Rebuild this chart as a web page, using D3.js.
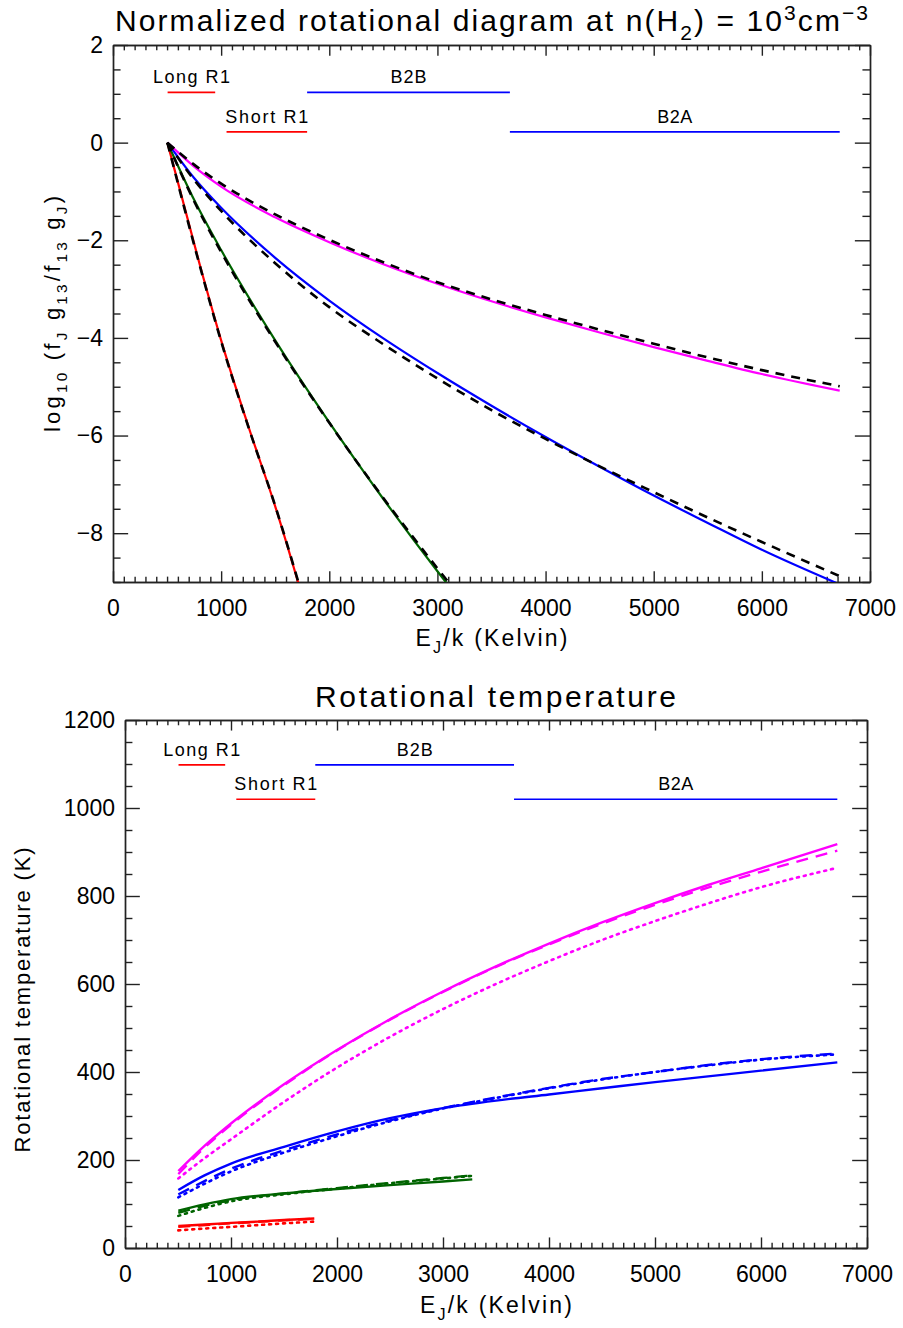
<!DOCTYPE html>
<html><head><meta charset="utf-8">
<script src="https://cdn.jsdelivr.net/npm/d3@7"></script>
<style>
body{margin:0;background:#fff}
svg{display:block}
text{font-family:"Liberation Sans",Arial,sans-serif;fill:#000}
</style>
</head><body>
<svg id="c" width="903" height="1328"></svg>
<script>
// ---------------- DATA ----------------
const xTicks = [0, 1000, 2000, 3000, 4000, 5000, 6000, 7000];
const topYTicks = [2, 0, -2, -4, -6, -8];
const botYTicks = [0, 200, 400, 600, 800, 1000, 1200];

// band annotations
const bandNames = ["Long R1", "Short R1", "B2B", "B2A"];
const bandStart = [505, 1050, 1795, 3670];
const bandEnd = [945, 1795, 3670, 6720];
const bandLevelTop = [1.03, 0.22, 1.03, 0.22];      // log10 units
const bandLevelBot = [1098, 1020, 1098, 1020];      // K

// energies E_J/k (K)
const redE = [503, 800, 1000, 1250, 1500, 1786];
const greenE = [503, 750, 1000, 1500, 2000, 2500, 3000, 3276];
const longE = [503, 750, 1000, 1500, 2000, 2500, 3000, 3500, 4000, 4500, 5000, 5500, 6000, 6720];

// top panel: log10 normalized populations (model) and fits (black dashed)
const redLog = [0, -2.48, -4.05, -5.80, -7.45, -9.57];
const redFit = [0, -2.50, -4.07, -5.81, -7.44, -9.55];
const greenLog = [0, -1.17, -2.20, -4.05, -5.73, -7.30, -8.78, -9.56];
const greenFit = [0, -1.20, -2.24, -4.08, -5.74, -7.28, -8.72, -9.48];
const blueLog = [0, -0.725, -1.335, -2.36, -3.235, -4.01, -4.72, -5.39, -6.03, -6.64, -7.23, -7.79, -8.34, -9.05];
const blueFit = [0, -0.76, -1.40, -2.47, -3.37, -4.13, -4.83, -5.48, -6.07, -6.63, -7.16, -7.68, -8.18, -8.88];
const magLog = [0, -0.49, -0.90, -1.53, -2.04, -2.49, -2.89, -3.25, -3.58, -3.89, -4.19, -4.47, -4.74, -5.08];
const magFit = [0, -0.45, -0.84, -1.47, -1.99, -2.45, -2.86, -3.21, -3.53, -3.83, -4.12, -4.40, -4.66, -4.99];

// bottom panel: rotational temperatures (K)
const redTsolid = [50, 54, 57, 60, 63.5, 67];
const redTdash = [48, 53, 56, 59.5, 63, 66.5];
const redTdot = [40, 45, 48, 52, 56, 60];
const greenTsolid = [85, 99, 111, 124, 134, 143, 151, 156];
const greenTdash = [80, 96, 109, 124, 136, 148, 159, 165];
const greenTdot = [73, 91, 106, 122, 135, 147, 158, 164];
const blueTsolid = [132, 165, 192, 230, 265, 295, 318, 335, 349, 363, 377, 390, 403, 422];
const blueTdash = [122, 152, 180, 222, 258, 290, 318, 342, 364, 384, 400, 416, 429, 442];
const blueTdot = [115, 146, 174, 217, 254, 288, 317, 341, 363, 383, 400, 415, 428, 440];
const magTsolid = [175, 232, 283, 372, 450, 520, 583, 640, 692, 740, 784, 825, 863, 918];
const magTdash = [168, 228, 280, 370, 449, 519, 582, 639, 690, 737, 780, 819, 855, 903];
const magTdot = [158, 204, 247, 332, 410, 480, 543, 600, 652, 700, 743, 783, 820, 864];

// ---------------- STYLE ----------------
const C = {red: "#ff0000", green: "#006400", blue: "#0000ff", mag: "#ff00ff"};
const bandColor = [C.red, C.red, C.blue, C.blue];
const bandTextLen = [77, 83, 36, 35];
const FONT = '"Liberation Sans", Arial, sans-serif';

const svg = d3.select("#c");

const xTop = d3.scaleLinear().domain([0, 7000]).range([113, 870]);
const yTop = d3.scaleLinear().domain([-9, 2]).range([582, 45]);
const xBot = d3.scaleLinear().domain([0, 7000]).range([125, 867]);
const yBot = d3.scaleLinear().domain([0, 1200]).range([1248, 720]);

function fmtY(d) { return d < 0 ? "\u2212" + Math.abs(d) : String(d); }

function frame(x, y, yTicks, xMinor, yMinor) {
  const [x0, x1] = x.range(), [y0, y1] = y.range();
  const xl = 0.02 * (y0 - y1), yl = 0.02 * (x1 - x0);
  const g = svg.append("g");
  const [dx0, dx1] = x.domain(), [dy0, dy1] = y.domain();
  const xm = d3.range(dx0, dx1 + 1e-6, xMinor).filter(v => !xTicks.includes(v));
  const ym = d3.range(dy0, dy1 + 1e-6, yMinor).filter(v => !yTicks.includes(v));
  function style(a) {
    a.attr("font-size", 23).attr("font-family", FONT);
    a.selectAll("path,line").attr("stroke", "#222").attr("stroke-width", 1.4);
    a.selectAll("text").attr("fill", "#000");
  }
  g.append("g").attr("transform", `translate(0,${y0})`)
    .call(d3.axisBottom(x).tickValues(xTicks).tickSize(-xl).tickSizeOuter(0).tickPadding(18).tickFormat(d3.format("d"))).call(style);
  g.append("g").attr("transform", `translate(0,${y0})`)
    .call(d3.axisBottom(x).tickValues(xm).tickSize(-xl / 2).tickSizeOuter(0).tickFormat("")).call(style);
  g.append("g").attr("transform", `translate(0,${y1})`)
    .call(d3.axisTop(x).tickValues(xTicks).tickSize(-xl).tickSizeOuter(0).tickFormat("")).call(style);
  g.append("g").attr("transform", `translate(0,${y1})`)
    .call(d3.axisTop(x).tickValues(xm).tickSize(-xl / 2).tickSizeOuter(0).tickFormat("")).call(style);
  g.append("g").attr("transform", `translate(${x0},0)`)
    .call(d3.axisLeft(y).tickValues(yTicks).tickSize(-yl).tickSizeOuter(0).tickPadding(10).tickFormat(fmtY)).call(style);
  g.append("g").attr("transform", `translate(${x0},0)`)
    .call(d3.axisLeft(y).tickValues(ym).tickSize(-yl / 2).tickSizeOuter(0).tickFormat("")).call(style);
  g.append("g").attr("transform", `translate(${x1},0)`)
    .call(d3.axisRight(y).tickValues(yTicks).tickSize(-yl).tickSizeOuter(0).tickFormat("")).call(style);
  g.append("g").attr("transform", `translate(${x1},0)`)
    .call(d3.axisRight(y).tickValues(ym).tickSize(-yl / 2).tickSizeOuter(0).tickFormat("")).call(style);
}

function rich(t, parts, size) {
  let cur = 0;
  parts.forEach(([s, k]) => {
    const off = k === "sub" ? 0.3 * size : k === "sup" ? -0.38 * size : 0;
    t.append("tspan").attr("dy", off - cur).attr("font-size", k === "n" ? size : size * 0.7).text(s);
    cur = off;
  });
}

function clip(id, x, y) {
  const [x0, x1] = x.range(), [y0, y1] = y.range();
  svg.append("clipPath").attr("id", id).append("rect")
    .attr("x", x0).attr("y", y1).attr("width", x1 - x0).attr("height", y0 - y1);
}

function series(x, y, xs, ys, color, width, dash, clipId) {
  const line = d3.line().x((d, i) => x(xs[i])).y(d => y(d)).curve(d3.curveMonotoneX);
  svg.append("path").datum(ys).attr("d", line)
    .attr("fill", "none").attr("stroke", color).attr("stroke-width", width)
    .attr("stroke-dasharray", dash).attr("stroke-linecap", dash === "2,5" ? "round" : "butt")
    .attr("clip-path", `url(#${clipId})`);
}

function bands(x, y, levels) {
  bandNames.forEach((n, i) => {
    const yy = y(levels[i]);
    svg.append("line").attr("x1", x(bandStart[i])).attr("x2", x(bandEnd[i]))
      .attr("y1", yy).attr("y2", yy).attr("stroke", bandColor[i]).attr("stroke-width", 1.6);
    svg.append("text").attr("x", x((bandStart[i] + bandEnd[i]) / 2)).attr("y", yy - 9)
      .attr("text-anchor", "middle").attr("font-size", 18).attr("fill", bandColor[i])
      .attr("textLength", bandTextLen[i]).attr("lengthAdjust", "spacing").text(n);
  });
}

// ---------------- TOP PANEL ----------------
clip("cTop", xTop, yTop);
frame(xTop, yTop, topYTicks, 100, 0.5);
bands(xTop, yTop, bandLevelTop);
series(xTop, yTop, redE, redLog, C.red, 2.2, null, "cTop");
series(xTop, yTop, greenE, greenLog, C.green, 2.2, null, "cTop");
series(xTop, yTop, longE, blueLog, C.blue, 2.2, null, "cTop");
series(xTop, yTop, longE, magLog, C.mag, 2.2, null, "cTop");
series(xTop, yTop, redE, redFit, "#000", 2.6, "9,7", "cTop");
series(xTop, yTop, greenE, greenFit, "#000", 2.6, "9,7", "cTop");
series(xTop, yTop, longE, blueFit, "#000", 2.6, "9,7", "cTop");
series(xTop, yTop, longE, magFit, "#000", 2.6, "9,7", "cTop");

const t1 = svg.append("text").attr("x", 115).attr("y", 31).attr("font-size", 30)
  .attr("textLength", 753).attr("lengthAdjust", "spacing");
rich(t1, [["Normalized rotational diagram at n(H", "n"], ["2", "sub"], [")  =  10", "n"], ["3", "sup"], ["cm", "n"], ["\u22123", "sup"]], 30);

const xt1 = svg.append("text").attr("x", 491.5).attr("y", 646).attr("text-anchor", "middle").attr("font-size", 23)
  .attr("textLength", 152).attr("lengthAdjust", "spacing");
rich(xt1, [["E", "n"], ["J", "sub"], ["/k (Kelvin)", "n"]], 23);

const yt1 = svg.append("text").attr("transform", "translate(60,314) rotate(-90)").attr("text-anchor", "middle")
  .attr("font-size", 22).attr("textLength", 236).attr("lengthAdjust", "spacing");
rich(yt1, [["log", "n"], ["10", "sub"], [" (f", "n"], ["J", "sub"], [" g", "n"], ["13", "sub"], ["/f", "n"], ["13", "sub"], [" g", "n"], ["J", "sub"], [")", "n"]], 22);

// ---------------- BOTTOM PANEL ----------------
clip("cBot", xBot, yBot);
frame(xBot, yBot, botYTicks, 100, 50);
bands(xBot, yBot, bandLevelBot);
const DASH = "12,8", DOT = "2,5";
[[redE, redTdot, redTdash, redTsolid, C.red],
 [greenE, greenTdot, greenTdash, greenTsolid, C.green],
 [longE, blueTdot, blueTdash, blueTsolid, C.blue],
 [longE, magTdot, magTdash, magTsolid, C.mag]].forEach(([xs, dot, dash, sol, col]) => {
  series(xBot, yBot, xs, dot, col, 2.6, DOT, "cBot");
  series(xBot, yBot, xs, dash, col, 2.4, DASH, "cBot");
  series(xBot, yBot, xs, sol, col, 2.4, null, "cBot");
});

svg.append("text").attr("x", 315).attr("y", 707).attr("font-size", 30)
  .attr("textLength", 361).attr("lengthAdjust", "spacing").text("Rotational temperature");

const xt2 = svg.append("text").attr("x", 496).attr("y", 1313).attr("text-anchor", "middle").attr("font-size", 23)
  .attr("textLength", 152).attr("lengthAdjust", "spacing");
rich(xt2, [["E", "n"], ["J", "sub"], ["/k (Kelvin)", "n"]], 23);

svg.append("text").attr("transform", "translate(30,1000) rotate(-90)").attr("text-anchor", "middle")
  .attr("font-size", 22).attr("textLength", 305).attr("lengthAdjust", "spacing").text("Rotational temperature (K)");
</script>
</body></html>
